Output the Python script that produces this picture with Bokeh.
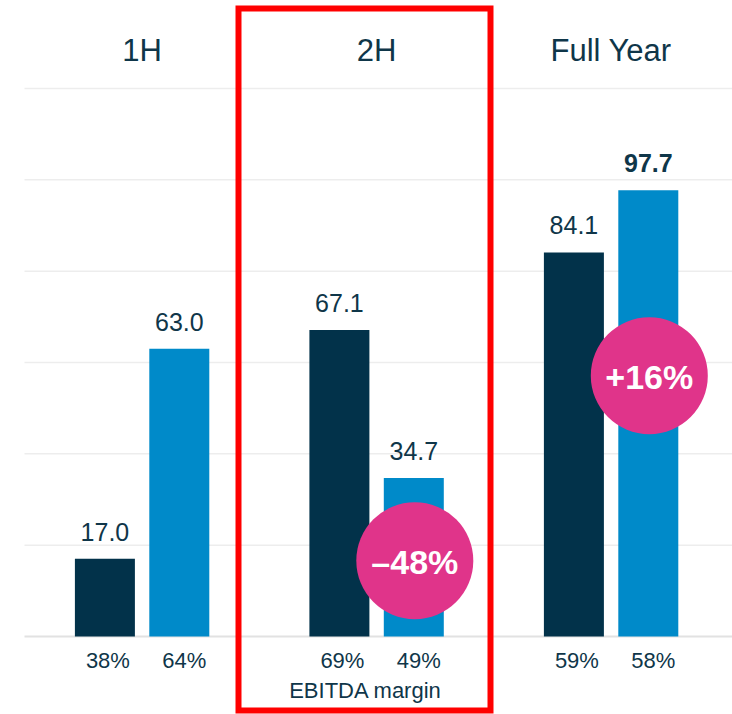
from bokeh.plotting import figure
from bokeh.models import Range1d, ColumnDataSource
from bokeh.core.properties import value
from bokeh.embed import file_html
from bokeh.resources import INLINE

# ---------------- data ----------------
groups = ["1H", "2H", "Full Year"]
series_a = [17.0, 67.1, 84.1]          # dark bars
series_b = [63.0, 34.7, 97.7]          # blue bars
margin_a = ["38%", "69%", "59%"]
margin_b = ["64%", "49%", "58%"]
change_groups = [1, 2]
change_labels = ["\u201348%", "+16%"]
highlight_b = [False, False, True]     # bold value label
grid_values = [20, 40, 60, 80, 100, 120]
margin_caption = "EBITDA margin"

# ---------------- style / layout ----------------
DARK = "#02324a"
BLUE = "#008ac9"
PINK = "#e0348a"
TEXT = "#0f3649"
FONT = value("Liberation Sans")
PX = 4.567            # pixels per data unit (vertical)
BASE = 636            # pixel row of the zero line
G0, GSTEP = 141.6, 234.5
OFF, BW = 37.2, 60

W, H = 732, 714
p = figure(width=W, height=H, output_backend="svg", toolbar_location=None,
           x_range=Range1d(0, W), y_range=Range1d(-(H - BASE) / PX, BASE / PX),
           min_border=0, outline_line_color=None)
p.axis.visible = False
p.xgrid.visible = False
p.ygrid.visible = False
p.background_fill_color = "white"
p.border_fill_color = "white"

n = len(groups)
gx = [G0 + GSTEP * i for i in range(n)]
xa = [g - OFF for g in gx]
xb = [g + OFF for g in gx]

# grid lines
p.segment(x0=[24] * len(grid_values), x1=[W] * len(grid_values),
          y0=grid_values, y1=grid_values, line_color="#ededed", line_width=1.5)
p.segment(x0=[24], x1=[W], y0=[0], y1=[0], line_color="#e2e2e2", line_width=2)

# bars
p.vbar(x=xa, top=series_a, bottom=0, width=BW, fill_color=DARK, line_color=None)
p.vbar(x=xb, top=series_b, bottom=0, width=BW, fill_color=BLUE, line_color=None)

# value labels
lab = ColumnDataSource(dict(
    x=xa + xb,
    y=[v + 27 / PX for v in series_a + series_b],
    t=[f"{v:.1f}" for v in series_a + series_b],
    s=["normal"] * n + ["bold" if h else "normal" for h in highlight_b],
))
p.text(x="x", y="y", text="t", source=lab, text_align="center", text_baseline="middle",
       text_font=FONT, text_font_size="25px", text_font_style="s", text_color=TEXT)

# group titles
p.text(x=gx, y=[(BASE - 50) / PX] * n, text=groups, text_align="center",
       text_baseline="middle", text_font=FONT, text_font_size="31px", text_color=TEXT)

# margin labels
p.text(x=[x + 3 for x in xa] + [x + 5 for x in xb], y=[-24 / PX] * (2 * n),
       text=margin_a + margin_b, text_align="center", text_baseline="middle",
       text_font=FONT, text_font_size="22px", text_color=TEXT)
p.text(x=[gx[1] - 11], y=[-54 / PX], text=[margin_caption], text_align="center",
       text_baseline="middle", text_font=FONT, text_font_size="22px", text_color=TEXT)

# change bubbles
cx = [xb[i] + 1 for i in change_groups]
cy = [16.6, 57.1]
p.scatter(x=cx, y=cy, marker="circle", size=117, fill_color=PINK, line_color=None)
p.text(x=cx, y=[c - 1.5 / PX for c in cy], text=change_labels, text_align="center",
       text_baseline="middle", text_font=FONT, text_font_size="34px",
       text_font_style="bold", text_color="white")

# highlight box around 2H
p.quad(left=[238], right=[490], top=[(BASE - 8) / PX], bottom=[(BASE - 710) / PX],
       fill_color=None, line_color="#ff0000", line_width=6, line_join="miter")

open("out.html", "w").write(file_html(p, INLINE))
